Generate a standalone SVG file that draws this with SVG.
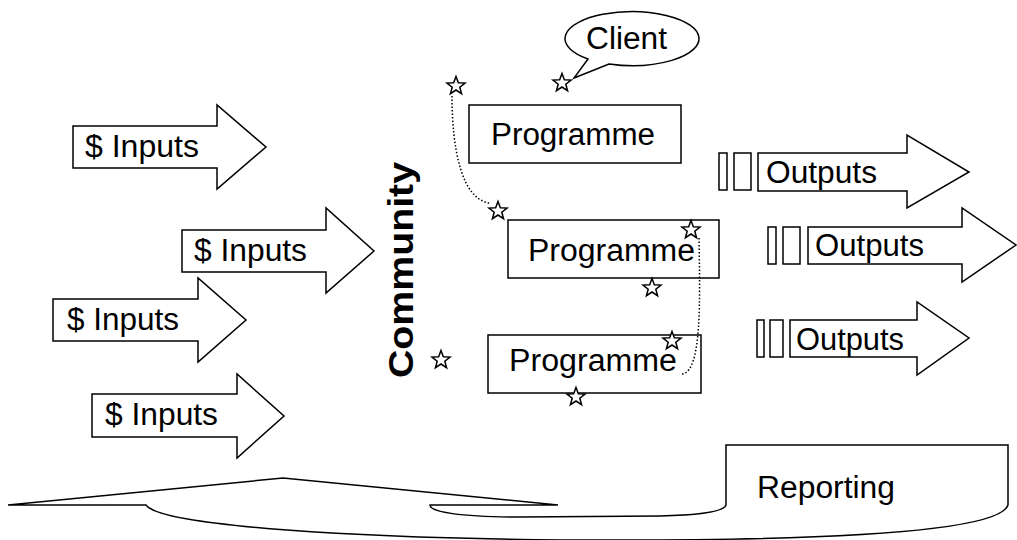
<svg xmlns="http://www.w3.org/2000/svg" width="1017" height="540" viewBox="0 0 1017 540">
<style>
.s{fill:#fff;stroke:#000;stroke-width:1.5;stroke-linejoin:miter}
.t{font-family:"Liberation Sans",Arial,sans-serif;font-size:31px;fill:#000}
.b{font-family:"Liberation Sans",Arial,sans-serif;font-size:35px;font-weight:bold;fill:#000}
.d{fill:none;stroke:#000;stroke-width:1.5;stroke-dasharray:1.5 2}
</style>
<defs>
<polygon id="star" class="s" points="0,-9.5 2.35,-3.24 9.04,-2.94 3.8,1.24 5.58,7.69 0,4 -5.58,7.69 -3.8,1.24 -9.04,-2.94 -2.35,-3.24"/>
</defs>
<rect width="1017" height="540" fill="#fff"/>

<g id="reporting">
<path class="s" d="M8 505 L283 478 L558 505 L430 505 C430 512 460 517 520 517 L660 516 C700 515 724 512 726 505 L726 445 L1008 445 L1008 505 C1000 530 850 540 620 540 C350 540 160 525 146 505 Z"/>
<text class="t" x="757" y="498" textLength="138" lengthAdjust="spacingAndGlyphs">Reporting</text>
</g>

<g id="input1">
<polygon class="s" points="73,126 217,126 217,105 266,147 217,189 217,168 73,168"/>
<text class="t" x="85" y="157" textLength="114" lengthAdjust="spacingAndGlyphs">$ Inputs</text>
</g>
<g id="input2">
<polygon class="s" points="182,230 326,230 326,208 374,251 326,293 326,272 182,272"/>
<text class="t" x="194" y="261" textLength="113" lengthAdjust="spacingAndGlyphs">$ Inputs</text>
</g>
<g id="input3">
<polygon class="s" points="53,299 198,299 198,278 246,320 198,362 198,341 53,341"/>
<text class="t" x="67" y="330" textLength="112" lengthAdjust="spacingAndGlyphs">$ Inputs</text>
</g>
<g id="input4">
<polygon class="s" points="92,394 237,394 237,374 284,416 237,458 237,437 92,437"/>
<text class="t" x="105" y="425" textLength="113" lengthAdjust="spacingAndGlyphs">$ Inputs</text>
</g>

<g id="community">
<text class="b" transform="translate(413,378) rotate(-90)" textLength="216" lengthAdjust="spacingAndGlyphs">Community</text>
</g>

<g id="client">
<path class="s" d="M588 59 L574 78 L609 64 A67 27 0 1 0 588 59 Z"/>
<text class="t" x="586" y="49" textLength="81" lengthAdjust="spacingAndGlyphs">Client</text>
</g>

<g id="programme1">
<rect class="s" x="469" y="105" width="212" height="58"/>
<text class="t" x="491" y="145" textLength="164" lengthAdjust="spacingAndGlyphs">Programme</text>
</g>
<g id="programme2">
<rect class="s" x="508" y="220" width="211" height="58"/>
<text class="t" x="528" y="261" textLength="167" lengthAdjust="spacingAndGlyphs">Programme</text>
</g>
<g id="programme3">
<rect class="s" x="488" y="335" width="213" height="58"/>
<text class="t" x="509" y="371" textLength="168" lengthAdjust="spacingAndGlyphs">Programme</text>
</g>

<g id="output1">
<rect class="s" x="719" y="153" width="8" height="37"/>
<rect class="s" x="734" y="153" width="17" height="37"/>
<polygon class="s" points="758,153 907,153 907,135 969,172 907,208 907,191 758,191"/>
<text class="t" x="766" y="183" textLength="111" lengthAdjust="spacingAndGlyphs">Outputs</text>
</g>
<g id="output2">
<rect class="s" x="768" y="227" width="8" height="37"/>
<rect class="s" x="783" y="227" width="17" height="37"/>
<polygon class="s" points="808,227 962,227 962,208 1016,245 962,282 962,264 808,264"/>
<text class="t" x="815" y="256" textLength="109" lengthAdjust="spacingAndGlyphs">Outputs</text>
</g>
<g id="output3">
<rect class="s" x="757" y="320" width="7" height="37"/>
<rect class="s" x="770" y="320" width="13" height="37"/>
<polygon class="s" points="790,320 917,320 917,302 969,338 917,375 917,357 790,357"/>
<text class="t" x="796" y="350" textLength="108" lengthAdjust="spacingAndGlyphs">Outputs</text>
</g>

<g id="connectors">
<path class="d" d="M452 96 C452 150 462 200 490 203"/>
<path class="d" d="M699 238 C700 300 702 372 682 374"/>
</g>

<g id="stars">
<use href="#star" x="456" y="86"/>
<use href="#star" x="562" y="83"/>
<use href="#star" x="498" y="211"/>
<use href="#star" x="691" y="230"/>
<use href="#star" x="652" y="288"/>
<use href="#star" x="672" y="341"/>
<use href="#star" x="441" y="360"/>
<use href="#star" x="576" y="397"/>
</g>
</svg>
